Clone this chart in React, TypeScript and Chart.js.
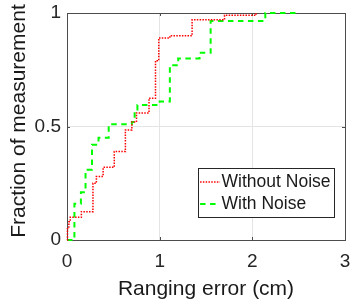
import React, { useEffect, useRef } from 'react';
import { Chart, registerables } from 'chart.js';

Chart.register(...registerables);

const seriesLabels = ['Without Noise', 'With Noise'];
const withoutNoiseX = [0, 0.005, 0.02, 0.035, 0.155, 0.28, 0.317, 0.39, 0.51, 0.63, 0.70, 0.75, 0.885, 0.955, 0.99, 1.11, 1.35, 1.70, 2.04];
const withoutNoiseY = [0, 0.05, 0.08, 0.10, 0.125, 0.25, 0.28, 0.32, 0.39, 0.485, 0.52, 0.56, 0.625, 0.79, 0.89, 0.90, 0.97, 0.99, 1.0];
const withNoiseX = [0, 0.08, 0.15, 0.2, 0.27, 0.34, 0.45, 0.70, 0.73, 0.76, 1.0, 1.11, 1.20, 1.43, 1.55, 2.14, 2.5];
const withNoiseY = [0, 0.16, 0.21, 0.31, 0.42, 0.45, 0.51, 0.52, 0.565, 0.595, 0.61, 0.77, 0.80, 0.825, 0.965, 1.0, 1.0];
const xTicks = [0, 1, 2, 3];
const yTicks = [0, 0.5, 1];
const xTitle = 'Ranging error (cm)';
const yTitle = 'Fraction of measurement';

const FONT = '"Liberation Sans", Arial, Helvetica, sans-serif';
const AXIS = '#4d4d4d';
const TEXT = '#1a1a1a';

const matlabPlugin = {
  id: 'matlabAxes',
  beforeDatasetsDraw(chart: any) {
    const { ctx, chartArea: a, scales } = chart;
    ctx.save();
    ctx.strokeStyle = AXIS;
    ctx.lineWidth = 1;
    ctx.strokeRect(a.left + 0.5, a.top + 0.5, a.right - a.left, a.bottom - a.top);
    const tl = 3;
    ctx.beginPath();
    xTicks.forEach((v) => {
      const px = Math.round(scales.x.getPixelForValue(v)) + 0.5;
      ctx.moveTo(px, a.bottom);
      ctx.lineTo(px, a.bottom - tl);
      ctx.moveTo(px, a.top);
      ctx.lineTo(px, a.top + tl);
    });
    yTicks.forEach((v) => {
      const py = Math.round(scales.y.getPixelForValue(v)) + 0.5;
      ctx.moveTo(a.left, py);
      ctx.lineTo(a.left + tl, py);
      ctx.moveTo(a.right, py);
      ctx.lineTo(a.right - tl, py);
    });
    ctx.stroke();
    ctx.restore();
  },
  afterDraw(chart: any) {
    const { ctx, chartArea: a } = chart;
    ctx.save();
    // axis titles
    ctx.fillStyle = TEXT;
    ctx.font = `21px ${FONT}`;
    ctx.textAlign = 'center';
    ctx.textBaseline = 'alphabetic';
    ctx.fillText(xTitle, (a.left + a.right) / 2, a.bottom + 55);
    ctx.save();
    ctx.translate(25, (a.top + a.bottom) / 2 - 5.5);
    ctx.rotate(-Math.PI / 2);
    ctx.fillText(yTitle, 0, 0);
    ctx.restore();

    // legend
    ctx.font = `17.5px ${FONT}`;
    const ds = chart.data.datasets;
    const maxW = Math.max(...ds.map((d: any) => ctx.measureText(d.label).width));
    const bw = 23 + maxW + 4;
    const bh = 49;
    const bx = a.right - 11 - bw;
    const by = a.bottom - 23 - bh;
    ctx.fillStyle = '#ffffff';
    ctx.fillRect(bx, by, bw, bh);
    ctx.strokeStyle = '#262626';
    ctx.lineWidth = 1;
    ctx.strokeRect(Math.round(bx) + 0.5, Math.round(by) + 0.5, Math.round(bw), Math.round(bh));
    ds.forEach((d: any, i: number) => {
      const cy = by + 14 + i * 22;
      ctx.save();
      ctx.strokeStyle = d.borderColor;
      ctx.lineWidth = d.borderWidth;
      ctx.setLineDash(d.borderDash);
      ctx.beginPath();
      ctx.moveTo(bx + 2, cy);
      ctx.lineTo(bx + 22, cy);
      ctx.stroke();
      ctx.restore();
      ctx.fillStyle = TEXT;
      ctx.textAlign = 'left';
      ctx.textBaseline = 'middle';
      ctx.fillText(d.label, bx + 23.5, cy);
    });
    ctx.restore();
  },
};

export default function App() {
  const ref = useRef<HTMLCanvasElement>(null);
  useEffect(() => {
    if (!ref.current) return;
    const toPts = (xs: number[], ys: number[]) => xs.map((x, i) => ({ x, y: ys[i] }));
    const tickFont = { family: FONT, size: 19 };
    const chart = new Chart(ref.current, {
      type: 'line',
      data: {
        datasets: [
          {
            label: seriesLabels[0],
            data: toPts(withoutNoiseX, withoutNoiseY),
            borderColor: '#ff0000',
            borderWidth: 1.5,
            borderDash: [1.5, 1.3],
            stepped: 'before',
            pointRadius: 0,
            fill: false,
            clip: 6,
          },
          {
            label: seriesLabels[1],
            data: toPts(withNoiseX, withNoiseY),
            borderColor: '#00ff00',
            borderWidth: 2,
            borderDash: [5.5, 4.5],
            stepped: 'before',
            pointRadius: 0,
            fill: false,
            clip: 6,
          },
        ],
      },
      options: {
        animation: false,
        responsive: false,
        maintainAspectRatio: false,
        layout: { padding: { top: 13, right: 7, left: 0, bottom: 0 } },
        plugins: { legend: { display: false }, tooltip: { enabled: false } },
        scales: {
          x: {
            type: 'linear',
            min: 0,
            max: 3,
            afterBuildTicks: (s: any) => {
              s.ticks = xTicks.map((v) => ({ value: v }));
            },
            afterFit: (s: any) => {
              s.height = 64;
              s.paddingLeft = 0;
              s.paddingRight = 0;
            },
            grid: { color: '#e4e4e4', drawTicks: false },
            border: { display: false },
            ticks: {
              padding: 10,
              font: tickFont,
              color: '#262626',
              maxRotation: 0,
              autoSkip: false,
              callback: (v: any) => String(v),
            },
          },
          y: {
            type: 'linear',
            min: 0,
            max: 1,
            afterBuildTicks: (s: any) => {
              s.ticks = yTicks.map((v) => ({ value: v }));
            },
            afterFit: (s: any) => {
              s.width = 67;
              s.paddingTop = 0;
              s.paddingBottom = 0;
            },
            grid: { color: '#e4e4e4', drawTicks: false },
            border: { display: false },
            ticks: {
              padding: 6,
              font: tickFont,
              color: '#262626',
              autoSkip: false,
              callback: (v: any) => String(v),
            },
          },
        },
      },
      plugins: [matlabPlugin],
    } as any);
    return () => chart.destroy();
  }, []);
  return (
    <div style={{ position: 'absolute', left: 0, top: 0, width: 352, height: 304, background: '#fff' }}>
      <canvas ref={ref} width={352} height={304} style={{ display: 'block', width: 352, height: 304 }} />
    </div>
  );
}
